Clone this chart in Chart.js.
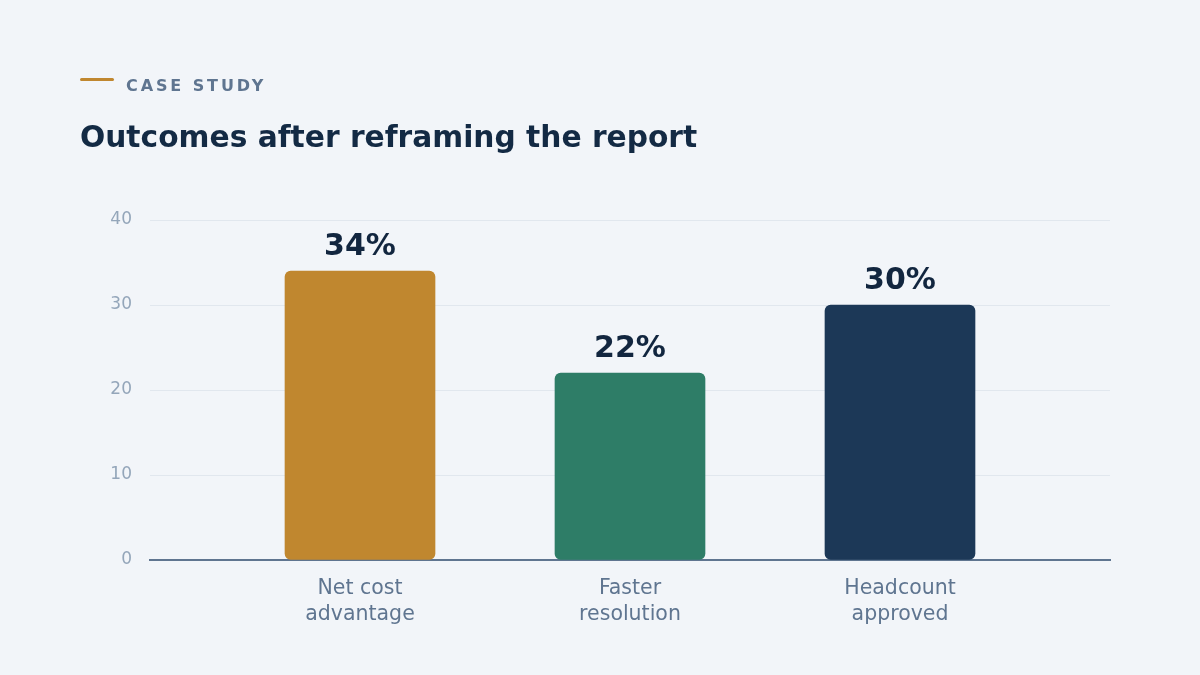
<!DOCTYPE html>
<html>
<head>
<meta charset="utf-8">
<script src="https://cdn.jsdelivr.net/npm/chart.js@4"></script>
<style>
  html, body { margin: 0; padding: 0; background: #f2f5f9; }
  body { width: 1200px; height: 675px; position: relative; overflow: hidden; font-family: "DejaVu Sans", sans-serif; }
  #wrap { position: absolute; left: 0; top: 0; width: 1200px; height: 675px; }
  .eyebrow-line { position: absolute; left: 80px; top: 78px; width: 34px; height: 3px; border-radius: 2px; background: #c0872f; }
  .eyebrow { position: absolute; left: 126px; top: 76px; font-weight: bold; font-size: 16px; letter-spacing: 2.9px; color: #5f7590; line-height: 20px; }
  .title { position: absolute; left: 80px; top: 118px; font-weight: bold; font-size: 29.7px; color: #132a44; line-height: 38px; }
</style>
</head>
<body>
<div id="wrap"><canvas id="c" width="1200" height="675"></canvas></div>
<div class="eyebrow-line"></div>
<div class="eyebrow">CASE STUDY</div>
<div class="title">Outcomes after reframing the report</div>
<script>
const categories = [["Net cost", "advantage"], ["Faster", "resolution"], ["Headcount", "approved"]];
const values = [34, 22, 30];
const valueLabels = ["34%", "22%", "30%"];
const barColors = ["#c0872f", "#2e7d67", "#1c3857"];
const yTicks = [0, 10, 20, 30, 40];

const positions = categories.map((_, i) => i + 1);
const points = values.map((v, i) => ({ x: positions[i], y: v }));

const valueLabelPlugin = {
  id: 'valueLabels',
  afterDatasetsDraw(chart) {
    const ctx = chart.ctx;
    const meta = chart.getDatasetMeta(0);
    ctx.save();
    ctx.font = 'bold 30px "DejaVu Sans"';
    ctx.fillStyle = '#12263f';
    ctx.textAlign = 'center';
    ctx.textBaseline = 'alphabetic';
    meta.data.forEach((bar, i) => {
      ctx.fillText(valueLabels[i], bar.x, bar.y - 16);
    });
    ctx.restore();
  }
};

new Chart(document.getElementById('c'), {
  type: 'bar',
  data: {
    datasets: [{
      data: points,
      backgroundColor: barColors,
      borderRadius: 6,
      borderSkipped: false,
      barThickness: 150
    }]
  },
  options: {
    responsive: false,
    animation: false,
    devicePixelRatio: 1,
    layout: { padding: { left: 80, right: 90, top: 220, bottom: 35 } },
    plugins: { legend: { display: false }, tooltip: { enabled: false } },
    scales: {
      x: {
        type: 'linear',
        offset: false,
        min: 0.2222,
        max: 3.7778,
        afterBuildTicks(scale) { scale.ticks = positions.map(p => ({ value: p })); },
        afterFit(scale) { scale.height = 80; },
        grid: { display: false, drawTicks: false, offset: false },
        border: { display: true, color: '#5f7590', width: 2 },
        ticks: {
          padding: 16,
          color: '#5f7590',
          font: { family: '"DejaVu Sans"', size: 20.5, lineHeight: 1.27 },
          autoSkip: false,
          maxRotation: 0,
          callback(value) { const i = positions.indexOf(value); return i >= 0 ? categories[i] : ''; }
        }
      },
      y: {
        min: 0,
        max: 40,
        afterBuildTicks(scale) { scale.ticks = yTicks.map(v => ({ value: v })); },
        afterFit(scale) { scale.width = 70; },
        grid: { color: '#e1e7ee', lineWidth: 1, drawTicks: false },
        border: { display: false },
        ticks: {
          padding: 18,
          color: '#94a6ba',
          font: { family: '"DejaVu Sans"', size: 17 }
        }
      }
    }
  },
  plugins: [valueLabelPlugin]
});
</script>
</body>
</html>
